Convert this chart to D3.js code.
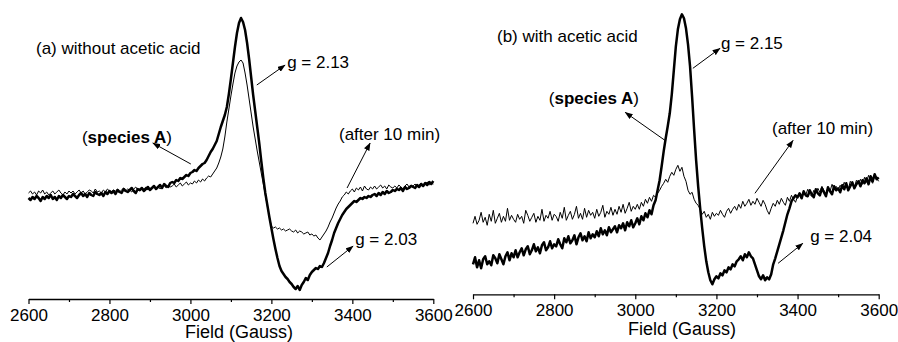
<!DOCTYPE html>
<html>
<head>
<meta charset="utf-8">
<script src="https://cdn.jsdelivr.net/npm/d3@7"></script>
<style>
    body { margin: 0; background: #fff; }
    svg text { font-family: "Liberation Sans", Arial, sans-serif; fill: #000; }
</style>
</head>
<body>
<script>
// field grid of the spectra (Gauss), one reading every 5 G
var fieldStart = 2600;
var fieldStep = 5;
var majorTicks = [2600, 2800, 3000, 3200, 3400, 3600];
var minorTicks = [2700, 2900, 3100, 3300, 3500];

// (a) without acetic acid, signal in a.u.
var aSpeciesA = [
    101,99,102,100,103,101,98,102,100,103,101,104,100,102,99,103,101,104,102,100,103,
    102,105,103,101,104,106,103,105,102,106,104,103,107,105,104,106,103,107,105,108,
    106,108,105,109,107,106,110,108,107,109,111,108,106,110,109,111,108,110,112,109,
    111,113,110,112,114,111,115,113,112,116,
    117,116,119,118,121,120,122,124,123,126,
    127,129,128,131,133,135,136,139,143,147,
    150,154,158,165,172,178,184,192,205,220,
    236,252,266,276,281,277,269,256,240,222,
    204,188,172,156,138,121,106,94,82,71,
    60,50,41,33,28,25,22,20,17,15,
    12,10,13,9,14,17,21,19,24,27,
    29,31,30,33,32,36,41,46,53,59,
    66,71,76,80,84,87,90,92,94,96,
    98,97,99,101,100,102,101,103,102,104,
    105,103,106,104,107,105,108,106,107,109,
    108,110,109,111,108,112,110,111,113,112,
    111,114,112,115,113,116,114,117,115,118
];
var aAfter10 = [
    106,108,105,107,104,108,106,109,105,107,104,106,108,105,107,109,106,104,107,105,108,
    106,108,105,107,109,106,108,105,107,109,108,106,110,107,108,106,109,107,110,108,
    107,109,108,110,107,109,111,108,110,109,107,110,112,109,108,111,110,112,109,111,
    110,112,111,113,110,112,114,111,113,112,
    113,115,112,114,116,113,115,117,114,116,
    115,118,116,119,117,120,118,121,123,122,
    125,128,131,136,142,150,162,177,190,203,
    215,226,233,237,239,236,226,214,200,186,
    172,160,148,137,126,115,104,93,82,73,
    71,72,70,71,69,70,68,69,70,68,
    67,69,66,68,67,65,66,67,64,65,
    63,64,61,59,62,65,68,72,77,81,
    86,91,95,98,102,104,107,105,108,110,
    107,111,109,112,108,113,110,109,112,110,
    113,110,112,114,111,113,110,114,112,111,
    113,111,114,112,110,113,115,112,114,113,
    115,112,114,116,113,115,117,114,116,115
];

// (b) with acetic acid
var bSpeciesA = [
    30,37,27,34,26,35,38,30,33,29,39,36,31,40,35,30,38,42,34,41,37,
    44,37,42,46,39,45,48,40,44,50,43,47,41,49,52,44,47,53,46,50,
    48,55,50,46,56,52,58,51,54,59,50,57,61,54,58,53,62,56,60,57,
    63,58,66,60,64,59,67,62,65,68,
    62,69,66,71,64,72,68,74,67,71,
    76,70,78,74,81,77,84,80,89,94,
    104,114,128,143,156,168,181,200,224,248,
    265,275,280,276,266,250,228,198,165,134,
    108,86,66,48,33,22,14,10,15,18,
    16,21,19,24,22,27,25,30,28,33,
    35,38,34,40,37,42,38,36,30,24,
    18,15,19,14,17,15,20,30,36,43,
    50,57,64,72,80,86,93,96,99,97,
    101,96,103,99,98,104,100,97,105,101,
    99,106,102,98,107,103,100,108,104,106,
    102,109,105,111,104,108,112,106,110,113,
    108,114,111,116,110,118,113,120,115,117
];
var bAfter10 = [
    71,78,70,74,82,72,77,69,80,73,84,71,76,81,72,78,73,86,74,79,75,
    72,80,75,78,71,84,79,73,77,81,72,78,74,85,73,79,76,83,74,80,
    78,73,82,76,87,74,79,83,75,80,88,76,81,75,86,77,84,79,82,76,
    85,78,82,89,77,83,80,87,79,85,
    80,88,82,90,81,86,92,83,88,85,
    90,85,92,88,95,91,97,93,99,97,
    101,104,108,111,115,112,118,122,119,125,
    129,123,127,118,113,104,100,102,95,91,
    89,85,80,83,77,80,75,82,78,81,
    79,84,80,77,83,86,81,85,88,84,
    90,86,93,88,91,95,89,93,90,96,
    92,88,94,90,84,80,86,91,88,94,
    90,96,92,89,97,93,99,95,92,98,
    101,96,103,99,105,100,98,104,101,106,
    102,108,104,100,107,103,110,105,108,104,
    109,106,112,108,105,113,110,107,114,111,
    115,110,117,112,119,114,111,120,116,113
];

// annotations: text start (field, signal) and arrow [field0, sig0, field1, sig1]
var aNotes = [
    {text: 'g = 2.13', f: 3239, s: 231, arrow: [3164, 214, 3234, 234]},
    {text: 'g = 2.03', f: 3407, s: 54, arrow: [3337, 32, 3402, 53]},
    {text: '(after 10 min)', f: 3367, s: 159, arrow: [3387, 111, 3444, 156]},
    {bold: true, f: 2732, s: 156, arrow: [3001, 135, 2907, 156]}
];
var bNotes = [
    {text: 'g = 2.15', f: 3211, s: 245, arrow: [3142, 226, 3209, 246]},
    {text: 'g = 2.04', f: 3431, s: 52, arrow: [3352, 31, 3413, 51]},
    {text: '(after 10 min)', f: 3337, s: 160, arrow: [3295, 101, 3389, 154]},
    {bold: true, f: 2787, s: 190, arrow: [3073, 154, 2975, 182]}
];

var panels = [
    {title: '(a) without acetic acid', titleX: 36, titleY: 54,
     left: 28.5, right: 433.3, axisY: 299, labelX: 239, labelY: 337.5,
     thick: aSpeciesA, thin: aAfter10, notes: aNotes},
    {title: '(b) with acetic acid', titleX: 497, titleY: 42,
     left: 473, right: 878.7, axisY: 294.3, labelX: 682, labelY: 335,
     thick: bSpeciesA, thin: bAfter10, notes: bNotes}
];

var svg = d3.select('body').append('svg')
    .attr('width', 898)
    .attr('height', 342);

svg.append('defs').append('marker')
    .attr('id', 'head')
    .attr('markerUnits', 'userSpaceOnUse')
    .attr('markerWidth', 8)
    .attr('markerHeight', 6)
    .attr('refX', 7.5)
    .attr('refY', 3)
    .attr('orient', 'auto')
    .append('path')
    .attr('d', 'M0,0L8,3L0,6Z')
    .attr('fill', '#000');

panels.forEach(function (p) {
    var x = d3.scaleLinear().domain([2600, 3600]).range([p.left, p.right]);
    var y = d3.scaleLinear().domain([0, 300]).range([p.axisY, p.axisY - 300]);
    var g = svg.append('g');

    var line = d3.line()
        .x(function (d, i) { return x(fieldStart + i * fieldStep); })
        .y(function (d) { return y(d); });

    g.append('path')
        .attr('d', line(p.thin))
        .attr('fill', 'none')
        .attr('stroke', '#000')
        .attr('stroke-width', 1)
        .attr('stroke-linejoin', 'round');

    g.append('path')
        .attr('d', line(p.thick))
        .attr('fill', 'none')
        .attr('stroke', '#000')
        .attr('stroke-width', 2.5)
        .attr('stroke-linejoin', 'round');

    // axis, major ticks labelled every 200 G
    var axis = g.append('g')
        .attr('transform', 'translate(0,' + p.axisY + ')')
        .call(d3.axisBottom(x).tickValues(majorTicks).tickSize(5)
            .tickSizeOuter(0).tickPadding(5).tickFormat(d3.format('d')));
    axis.select('.domain').attr('stroke-width', 1.3);
    axis.selectAll('.tick line').attr('stroke-width', 1.2);
    axis.selectAll('text')
        .attr('font-size', 17)
        .attr('font-family', '"Liberation Sans", Arial, sans-serif');

    g.append('g')
        .attr('transform', 'translate(0,' + p.axisY + ')')
        .call(d3.axisBottom(x).tickValues(minorTicks).tickSize(3).tickFormat(''))
        .call(function (s) { s.select('.domain').remove(); })
        .selectAll('.tick line').attr('stroke-width', 1.2);

    g.append('text')
        .attr('x', p.labelX)
        .attr('y', p.labelY)
        .attr('text-anchor', 'middle')
        .attr('font-size', 18)
        .text('Field (Gauss)');

    g.append('text')
        .attr('x', p.titleX)
        .attr('y', p.titleY)
        .attr('font-size', 17)
        .text(p.title);

    p.notes.forEach(function (n) {
        var t = g.append('text')
            .attr('x', x(n.f))
            .attr('y', y(n.s))
            .attr('font-size', 17);
        if (n.bold) {
            t.append('tspan').text('(');
            t.append('tspan').attr('font-weight', 'bold').text('species A');
            t.append('tspan').text(')');
        } else {
            t.text(n.text);
        }
        g.append('line')
            .attr('x1', x(n.arrow[0]))
            .attr('y1', y(n.arrow[1]))
            .attr('x2', x(n.arrow[2]))
            .attr('y2', y(n.arrow[3]))
            .attr('stroke', '#000')
            .attr('stroke-width', 1)
            .attr('marker-end', 'url(#head)');
    });
});
</script>
</body>
</html>
